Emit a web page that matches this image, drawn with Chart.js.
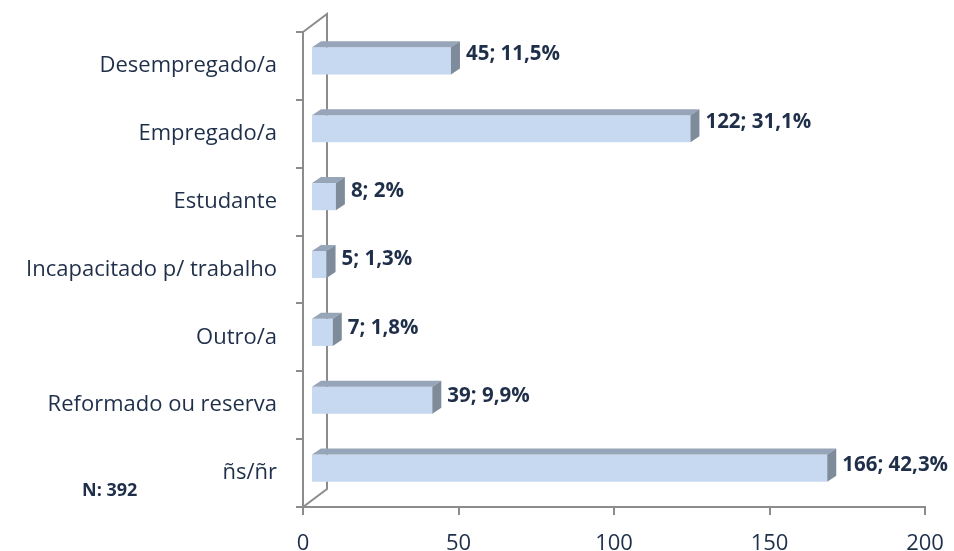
<!DOCTYPE html>
<html lang="pt">
<head>
  <meta charset="UTF-8" />
  <title>Situação profissional</title>
  <script src="https://cdn.jsdelivr.net/npm/chart.js"></script>
  <style>
    body { margin: 0; background: #ffffff; }
    #wrap { width: 954px; height: 551px; }
  </style>
</head>
<body>
  <div id="wrap"><canvas id="chart" width="954" height="551"></canvas></div>

  <script>
    const categories = ['Desempregado/a', 'Empregado/a', 'Estudante', 'Incapacitado p/ trabalho', 'Outro/a', 'Reformado ou reserva', 'ñs/ñr'];
    const counts = [45, 122, 8, 5, 7, 39, 166];
    const percents = ['11,5', '31,1', '2', '1,3', '1,8', '9,9', '42,3'];
    const xTicks = [0, 50, 100, 150, 200];
    const totalN = 392;

    const navy = '#1f2f4a';
    const lineGrey = '#8c8c8c';
    const depthX = 24, depthY = 18;   // back wall offset
    const barShiftX = 8, barShiftY = -5;
    const faceX = 9, faceY = 6;       // bar depth

    // walls of the 3D box
    const wallPlugin = {
      id: 'walls',
      beforeDatasetsDraw(chart) {
        const { ctx, chartArea: a } = chart;
        ctx.save();
        ctx.strokeStyle = lineGrey;
        ctx.lineWidth = 2;
        ctx.beginPath();
        ctx.moveTo(a.left, a.top);
        ctx.lineTo(a.left + depthX, a.top - depthY);
        ctx.lineTo(a.left + depthX, a.bottom - depthY);
        ctx.lineTo(a.left, a.bottom);
        ctx.stroke();
        ctx.restore();
        // shift bars into the middle of the depth
        ctx.save();
        ctx.translate(barShiftX, barShiftY);
      },
      afterDatasetsDraw(chart) {
        const { ctx } = chart;
        const meta = chart.getDatasetMeta(0);
        meta.data.forEach((bar, i) => {
          const x0 = bar.base, x1 = bar.x;
          const yT = bar.y - bar.height / 2, yB = bar.y + bar.height / 2;
          ctx.fillStyle = '#97a5b8';
          ctx.beginPath();
          ctx.moveTo(x0, yT);
          ctx.lineTo(x0 + faceX, yT - faceY);
          ctx.lineTo(x1 + faceX, yT - faceY);
          ctx.lineTo(x1, yT);
          ctx.closePath();
          ctx.fill();
          ctx.fillStyle = '#7e8b9a';
          ctx.beginPath();
          ctx.moveTo(x1, yT);
          ctx.lineTo(x1 + faceX, yT - faceY);
          ctx.lineTo(x1 + faceX, yB - faceY);
          ctx.lineTo(x1, yB);
          ctx.closePath();
          ctx.fill();

          ctx.fillStyle = navy;
          ctx.font = 'bold 20.5px "Open Sans"';
          ctx.textAlign = 'left';
          ctx.textBaseline = 'middle';
          ctx.fillText(counts[i] + '; ' + percents[i] + '%', x1 + faceX + 6, bar.y - 7 + i * 0.6);
        });
        ctx.restore();
      },
      afterDraw(chart) {
        const { ctx } = chart;
        ctx.save();
        ctx.fillStyle = navy;
        ctx.font = 'bold 18px "Open Sans"';
        ctx.textAlign = 'left';
        ctx.textBaseline = 'middle';
        ctx.fillText('N: ' + totalN, 82, 491);
        ctx.restore();
      }
    };

    new Chart(document.getElementById('chart'), {
      type: 'bar',
      data: {
        labels: categories,
        datasets: [{
          data: counts,
          backgroundColor: '#c6d9f0',
          borderWidth: 0,
          barPercentage: 0.4,
          categoryPercentage: 1,
          clip: false
        }]
      },
      options: {
        indexAxis: 'y',
        responsive: false,
        animation: false,
        layout: { padding: { top: 32, right: 29, left: 0, bottom: 0 } },
        plugins: {
          legend: { display: false },
          tooltip: { enabled: false }
        },
        scales: {
          x: {
            min: 0,
            max: 200,
            afterBuildTicks(scale) { scale.ticks = xTicks.map(v => ({ value: v })); },
            afterFit(scale) {
              scale.height = 44;
              scale.paddingLeft = 0;
              scale.paddingRight = 0;
            },
            border: { display: true, color: lineGrey, width: 2 },
            grid: { drawOnChartArea: false, drawTicks: true, tickLength: 8, color: lineGrey, lineWidth: 2 },
            ticks: { color: navy, font: { family: 'Open Sans', size: 22 }, padding: 16 }
          },
          y: {
            afterFit(scale) {
              scale.width = 303;
              scale.paddingTop = 0;
              scale.paddingBottom = 0;
            },
            border: { display: true, color: lineGrey, width: 2 },
            grid: { offset: true, drawOnChartArea: false, drawTicks: true, tickLength: 7, color: lineGrey, lineWidth: 2 },
            ticks: { color: navy, font: { family: 'Open Sans', size: 22 }, padding: 19 }
          }
        }
      },
      plugins: [wallPlugin]
    });
  </script>
</body>
</html>
